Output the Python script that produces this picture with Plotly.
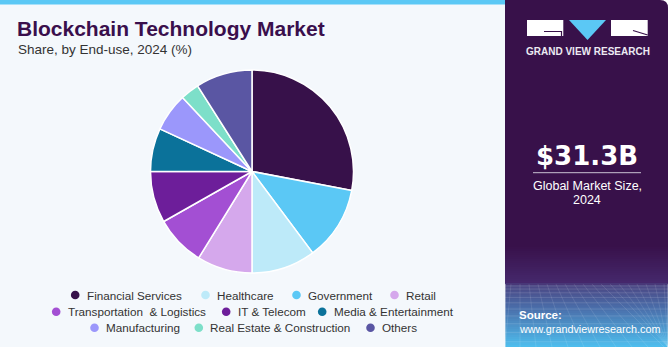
import plotly.graph_objects as go

W, H = 670, 350

# ---------------- data ----------------
# slices in clockwise order from 12 o'clock
pie_labels = ["Financial Services", "Government", "Healthcare", "Retail",
              "Transportation  & Logistics", "IT & Telecom", "Media & Entertainment",
              "Manufacturing", "Real Estate & Construction", "Others"]
pie_shares = [28.0, 11.8, 10.2, 8.8, 8.0, 8.2, 6.9, 6.1, 3.0, 9.0]

legend_rows = [
    ["Financial Services", "Healthcare", "Government", "Retail"],
    ["Transportation  & Logistics", "IT & Telecom", "Media & Entertainment"],
    ["Manufacturing", "Real Estate & Construction", "Others"],
]

title_text = "Blockchain Technology Market"
subtitle_text = "Share, by End-use, 2024 (%)"
market_size = "$31.3B"
market_caption = ["Global Market Size,", "2024"]

# ---------------- style ----------------
colors = {
    "Financial Services": "#37114A",
    "Government": "#5BC8F5",
    "Healthcare": "#BDEAF9",
    "Retail": "#D5A8EC",
    "Transportation  & Logistics": "#A34FD3",
    "IT & Telecom": "#6D1E9A",
    "Media & Entertainment": "#0B729A",
    "Manufacturing": "#9B97FB",
    "Real Estate & Construction": "#7DDFC9",
    "Others": "#5A56A3",
}
legend_text_x = [[85.7, 216, 307, 405], [66.7, 236.7, 332.7], [105, 209.3, 381]]
legend_row_y = [295, 311.7, 327.7]

FONT = "Liberation Sans, Arial, sans-serif"
PURPLE = "#38114A"


def px(x):
    return x / W


def py(y):
    return 1 - y / H


fig = go.Figure()

cx, cy, r = 252, 171.5, 101.5
fig.add_trace(go.Pie(
    labels=pie_labels, values=pie_shares,
    marker=dict(colors=[colors[l] for l in pie_labels], line=dict(color="white", width=1.5)),
    sort=False, direction="clockwise", rotation=0,
    textinfo="none", hoverinfo="label+percent", showlegend=False,
    domain=dict(x=[px(cx - r), px(cx + r)], y=[py(cy + r), py(cy - r)]),
))

shapes = []
annotations = []

# left panel background
shapes.append(dict(type="rect", xref="paper", yref="paper", x0=0, x1=px(505), y0=py(347), y1=1,
                   fillcolor="#F4F8FC", line=dict(width=0), layer="below"))
# top blue strip
shapes.append(dict(type="rect", xref="paper", yref="paper", x0=0, x1=px(505), y0=py(4.5), y1=1,
                   fillcolor="#5BC8F5", line=dict(width=0), layer="below"))

# right panel with rounded top-right corner
x0p, x1p, y0p, y1p, rad = 505, 668, 0, 347, 8
path = (f"M {px(x0p)},{py(y1p)} L {px(x0p)},{py(y0p)} L {px(x1p - rad)},{py(y0p)} "
        f"Q {px(x1p)},{py(y0p)} {px(x1p)},{py(y0p + rad)} L {px(x1p)},{py(y1p)} Z")
shapes.append(dict(type="path", xref="paper", yref="paper", path=path,
                   fillcolor=PURPLE, line=dict(width=0), layer="below"))


def lerp(c1, c2, t):
    a = [int(c1[i:i + 2], 16) for i in (1, 3, 5)]
    b = [int(c2[i:i + 2], 16) for i in (1, 3, 5)]
    return "#" + "".join(f"{round(a[k] + (b[k] - a[k]) * t):02x}" for k in range(3))


stops = [(245, "#38114A"), (282, "#45286C"), (284, "#4B4683"), (305, "#4A6AA6"), (347, "#4EC0F0")]
y = 245
while y < 347:
    for (ya, ca), (yb, cb) in zip(stops[:-1], stops[1:]):
        if ya <= y < yb:
            col = lerp(ca, cb, (y - ya) / (yb - ya))
            break
    shapes.append(dict(type="rect", xref="paper", yref="paper", x0=px(x0p), x1=px(x1p),
                       y0=py(min(y + 2, 347)), y1=py(y), fillcolor=col, line=dict(width=0), layer="below"))
    y += 2

# faint perspective grid
gy = 286
step = 3
while gy < 347:
    shapes.append(dict(type="line", xref="paper", yref="paper", x0=px(x0p), x1=px(x1p),
                       y0=py(gy), y1=py(gy), line=dict(color="rgba(255,255,255,0.13)", width=1), layer="below"))
    gy += step
    step += 0.8
for i in range(-10, 22):
    xt = 520 + i * 9
    xb = 520 + i * 16
    shapes.append(dict(type="line", xref="paper", yref="paper", x0=px(max(min(xt, x1p), x0p)), x1=px(max(min(xb, x1p), x0p)),
                       y0=py(284), y1=py(347), line=dict(color="rgba(255,255,255,0.10)", width=1), layer="below"))

# logo
shapes.append(dict(type="rect", xref="paper", yref="paper", x0=px(527), x1=px(563.3), y0=py(36), y1=py(20),
                   fillcolor="white", line=dict(width=0)))
shapes.append(dict(type="path", xref="paper", yref="paper",
                   path=f"M {px(544)},{py(31.5)} L {px(561.5)},{py(31.5)} L {px(561.5)},{py(36)}",
                   line=dict(color=PURPLE, width=1.2)))
shapes.append(dict(type="path", xref="paper", yref="paper",
                   path=f"M {px(569)},{py(20)} L {px(606)},{py(20)} L {px(587.5)},{py(40)} Z",
                   fillcolor="#5BC8F5", line=dict(width=0)))
shapes.append(dict(type="rect", xref="paper", yref="paper", x0=px(611), x1=px(647.7), y0=py(36), y1=py(20),
                   fillcolor="white", line=dict(width=0)))
shapes.append(dict(type="path", xref="paper", yref="paper",
                   path=f"M {px(633)},{py(30.5)} L {px(647.7)},{py(35)}",
                   line=dict(color=PURPLE, width=1.2)))
annotations.append(dict(text="<b>GRAND VIEW RESEARCH</b>", xref="paper", yref="paper", x=px(587.5), y=py(51.5),
                        xanchor="center", yanchor="middle", showarrow=False, borderpad=0,
                        font=dict(family=FONT, size=10, color="#ECEAF2")))

# market size
annotations.append(dict(text=f"<b>{market_size}</b>", xref="paper", yref="paper", x=px(587), y=py(155.8),
                        xanchor="center", yanchor="middle", showarrow=False, borderpad=0,
                        font=dict(family="DejaVu Sans, sans-serif", size=26, color="white")))
shapes.append(dict(type="line", xref="paper", yref="paper", x0=px(533), x1=px(641), y0=py(172.7), y1=py(172.7),
                   line=dict(color="#C9C2D2", width=1)))
for txt, yc in zip(market_caption, [185.6, 200]):
    annotations.append(dict(text=txt, xref="paper", yref="paper", x=px(587), y=py(yc),
                            xanchor="center", yanchor="middle", showarrow=False, borderpad=0,
                            font=dict(family=FONT, size=12.5, color="white")))

# source
annotations.append(dict(text="<b>Source:</b>", xref="paper", yref="paper", x=px(517.5), y=py(315.3),
                        xanchor="left", yanchor="middle", showarrow=False, borderpad=0,
                        font=dict(family=FONT, size=11.5, color="white")))
annotations.append(dict(text="www.grandviewresearch.com", xref="paper", yref="paper", x=px(517.5), y=py(328.5),
                        xanchor="left", yanchor="middle", showarrow=False, borderpad=0,
                        font=dict(family=FONT, size=10.8, color="white")))

# titles
annotations.append(dict(text=f"<b>{title_text}</b>", xref="paper", yref="paper", x=px(16), y=py(28.6),
                        xanchor="left", yanchor="middle", showarrow=False, borderpad=0,
                        font=dict(family=FONT, size=21, color="#3A0F4C")))
annotations.append(dict(text=subtitle_text, xref="paper", yref="paper", x=px(16.5), y=py(49.2),
                        xanchor="left", yanchor="middle", showarrow=False, borderpad=0,
                        font=dict(family=FONT, size=13.5, color="#333333")))

# legend
for row, xs, yr in zip(legend_rows, legend_text_x, legend_row_y):
    for lab, tx in zip(row, xs):
        mx = tx - 10.5
        shapes.append(dict(type="circle", xref="paper", yref="paper",
                           x0=px(mx - 4.3), x1=px(mx + 4.3), y0=py(yr + 4.3), y1=py(yr - 4.3),
                           fillcolor=colors[lab], line=dict(width=0)))
        annotations.append(dict(text=lab.replace("  ", "&nbsp; "), xref="paper", yref="paper", x=px(tx), y=py(yr),
                                xanchor="left", yanchor="middle", showarrow=False, borderpad=0,
                                font=dict(family=FONT, size=11.7, color="#333333")))

fig.update_layout(
    width=W, height=H, margin=dict(l=0, r=0, t=0, b=0),
    paper_bgcolor="white", plot_bgcolor="white",
    shapes=shapes, annotations=annotations, showlegend=False,
)

fig.write_html("out.html")
